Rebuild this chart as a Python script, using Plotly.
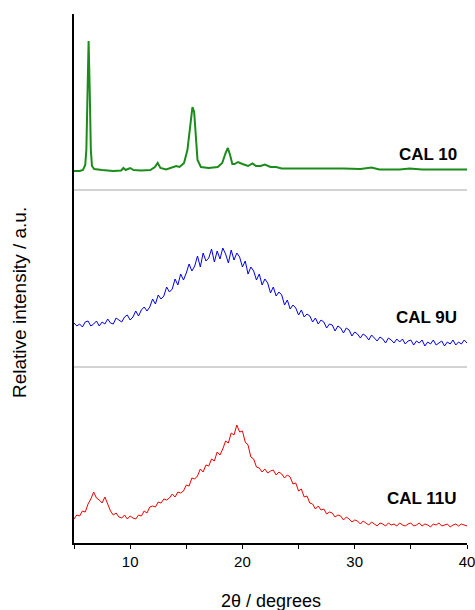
import plotly.graph_objects as go

# ---------------- data ----------------
# CAL 10 (crystalline, smooth) – 2theta and relative intensity
cal10_2theta = [5.0, 5.5, 5.8, 6.0, 6.1, 6.2, 6.3, 6.4, 6.5, 6.6, 6.8, 7.5, 8.5, 9.2, 9.4, 9.6,
                10.0, 10.3, 11.0, 11.8, 12.2, 12.45, 12.7, 13.2, 13.8, 14.1, 14.4, 14.8, 15.1,
                15.35, 15.55, 15.7, 15.85, 16.0, 16.3, 17.0, 17.8, 18.2, 18.5, 18.7, 18.9, 19.1,
                19.3, 19.6, 20.0, 20.5, 20.9, 21.2, 21.6, 22.0, 22.5, 23.0, 23.5, 24.5, 25.5,
                27.0, 28.0, 29.0, 30.5, 31.5, 32.2, 34.0, 34.9, 36.0, 38.0, 40.0]
cal10_int = [0, 0, 1, 6, 21, 71, 130, 81, 21, 5, 2, 1, 0, 0.5, 3, 1,
             3, 1, 0.5, 1, 4, 8, 3, 1.5, 4, 5, 4, 8, 21,
             46, 64, 59, 36, 11, 4, 3, 4, 8, 18, 23, 16, 7,
             7, 9, 7, 5, 7.5, 5, 5, 6.5, 4, 4, 2.5, 2.5, 2.5,
             2.5, 3, 2.5, 2, 3.5, 1.5, 1.5, 2.5, 1.5, 1.5, 1.5]

# CAL 9U and CAL 11U (amorphous, noisy) – sampled every 0.25 deg from 5 to 40
noisy_2theta = [5.0 + 0.25 * i for i in range(141)]
cal9u_int = [22, 19, 21, 18, 23, 24, 19, 21, 24, 19, 23, 21, 26, 22, 21, 27,
             25, 23, 28, 30, 25, 28, 34, 29, 35, 38, 34, 38, 46, 41, 50, 46,
             49, 58, 53, 56, 66, 60, 71, 65, 72, 81, 74, 79, 89, 78, 92, 84,
             87, 96, 83, 94, 86, 97, 91, 82, 95, 85, 92, 88, 78, 84, 71, 78,
             74, 65, 71, 60, 66, 62, 52, 58, 49, 53, 50, 40, 45, 36, 40, 37,
             30, 35, 28, 31, 29, 23, 27, 21, 25, 23, 17, 21, 20, 14, 19, 17,
             12, 17, 15, 9, 13, 11, 7, 11, 9, 5, 10, 7, 4, 8, 6, 2,
             7, 5, 2, 6, 3, 6, 1, 4, 5, 0, 4, 2, 5, -1, 3, 1,
             5, 0, 2, 4, -1, 3, 1, 5, 0, 3, 1, 5, 2]
cal11u_int = [8, 12, 11, 16, 15, 23, 28, 35, 29, 27, 24, 30, 23, 16, 12, 14,
              10, 9, 12, 8, 11, 9, 8, 12, 11, 16, 14, 20, 21, 20, 25, 24,
              28, 27, 29, 33, 30, 35, 34, 36, 42, 41, 49, 48, 51, 58, 55, 62,
              61, 68, 66, 75, 72, 78, 86, 84, 94, 92, 102, 95, 96, 85, 82, 70,
              68, 60, 59, 55, 58, 54, 56, 57, 52, 55, 53, 49, 52, 50, 43, 44,
              36, 38, 30, 31, 24, 23, 18, 21, 17, 18, 13, 15, 14, 10, 12, 11,
              7, 10, 8, 5, 7, 6, 3, 6, 4, 2, 5, 3, 1, 4, 3, 1,
              4, 2, 3, 1, 4, 2, 1, 3, 4, 1, 2, 4, 1, 3, 2, 0,
              3, 2, 4, 1, 2, 3, 0, 2, 3, 1, 3, 2, 1]
assert len(cal9u_int) == len(noisy_2theta) == len(cal11u_int)

labels = ["CAL 10", "CAL 9U", "CAL 11U"]
offsets = [372, 198, 16]          # vertical stacking offsets
separators = [353, 176]           # grey lines between patterns
label_y = [389, 226, 45]
colors = ["#1a8c1a", "#0000e6", "#ee0000"]
widths = [2, 1, 1]

xs = [cal10_2theta, noisy_2theta, noisy_2theta]
ys = [cal10_int, cal9u_int, cal11u_int]

fig = go.Figure()
for x, y, off, c, w, name in zip(xs, ys, offsets, colors, widths, labels):
    fig.add_trace(go.Scatter(x=x, y=[v + off for v in y], mode="lines",
                             line=dict(color=c, width=w), name=name,
                             showlegend=False, hoverinfo="skip"))

for s in separators:
    fig.add_shape(type="line", xref="x", yref="y", x0=5, x1=40, y0=s, y1=s,
                  line=dict(color="#c4c4c4", width=1.5))

for lab, ly in zip(labels, label_y):
    fig.add_annotation(x=39.3, y=ly, xref="x", yref="y", text="<b>%s</b>" % lab,
                       showarrow=False, xanchor="right", yanchor="middle",
                       font=dict(size=17, color="black"))

fig.add_annotation(x=-0.137, y=0.454, xref="paper", yref="paper",
                   text="Relative intensity / a.u.", textangle=-90, showarrow=False,
                   xanchor="center", yanchor="middle", font=dict(size=19, color="black"))
fig.add_annotation(x=0.5, y=-0.11, xref="paper", yref="paper",
                   text="2θ / degrees", showarrow=False,
                   xanchor="center", yanchor="middle", font=dict(size=18, color="black"))

fig.update_layout(
    width=475, height=610,
    margin=dict(l=74, r=8, t=14, b=67, autoexpand=False),
    paper_bgcolor="white", plot_bgcolor="white",
    font=dict(family="Liberation Sans, Arial, sans-serif", color="black"),
    xaxis=dict(range=[5, 40], showline=True, linecolor="black", linewidth=1.5,
               ticks="outside", ticklen=4, tickwidth=1.2, tickcolor="black",
               tickvals=[10, 20, 30, 40], showgrid=False, zeroline=False,
               tickfont=dict(size=15), ticklabeloverflow="allow", automargin=False,
               minor=dict(tickvals=[5, 15, 25, 35], ticks="outside", ticklen=4,
                          tickwidth=1.2, tickcolor="black", showgrid=False)),
    yaxis=dict(range=[0, 529], showline=True, linecolor="black", linewidth=1.5,
               ticks="", showticklabels=False, showgrid=False, zeroline=False),
)

fig.write_html("out.html")
